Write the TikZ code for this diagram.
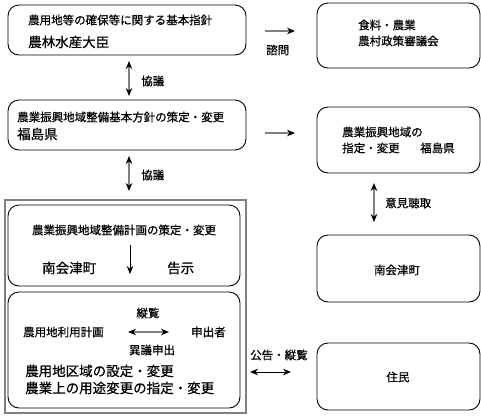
\documentclass[tikz,border=0pt]{standalone}
\usepackage{fontspec}
\setmainfont[FakeBold=0.6,AutoFakeBold=0.6]{Noto Sans CJK JP}
\usetikzlibrary{arrows.meta}
\definecolor{linegray}{RGB}{128,128,128}
\tikzset{
  rbox/.style={draw=black,line width=0.9pt,rounded corners=11pt},
  sm/.style={font=\fontsize{11.5}{13}\selectfont\bfseries,inner sep=0pt},
  lg/.style={font=\fontsize{13.5}{15}\selectfont\bfseries,inner sep=0pt},
  conn/.style={draw=linegray,line width=1.4pt,-{Stealth[length=8pt,width=6.5pt,black]}},
  dconn/.style={draw=linegray,line width=1.4pt,{Stealth[length=8pt,width=6.5pt,black]}-{Stealth[length=8pt,width=6.5pt,black]}},
}
\begin{document}
\begin{tikzpicture}[x=1pt,y=-1pt]
\useasboundingbox (0,0) rectangle (481,416);
% outer frame
\draw[draw=linegray,line width=1.8pt] (5,200) rectangle (246,413);
% left boxes
\draw[rbox] (8,5) rectangle (246,55);
\node[sm,anchor=west] (a1) at (28,20) {農用地等の確保等に関する基本指針};
\node[lg,anchor=west] (a2) at (28,42) {農林水産大臣};
\draw[rbox] (8,100) rectangle (246,150);
\node[sm,anchor=west] (b1) at (17,117) {農業振興地域整備基本方針の策定・変更};
\node[lg,anchor=west] (b2) at (17,134) {福島県};
\draw[rbox] (8,205) rectangle (240,286);
\node[sm] (c1) at (124,230) {農業振興地域整備計画の策定・変更};
\node[lg,anchor=west] (c2) at (42,268) {南会津町};
\node[lg,anchor=west] (c3) at (167,268) {告示};
\coordinate (ctop) at (130,245);
\coordinate (cbot) at (130,274);
\draw[conn,draw=black,line width=0.9pt] (ctop) -- (cbot);
\draw[rbox] (8,292) rectangle (240,408);
\node[sm] (d0) at (148,313) {縦覧};
\node[sm,anchor=west] (d1) at (23,332) {農用地利用計画};
\node[sm,anchor=west] (d2) at (191,332) {申出者};
\node[sm] (d3) at (152,350) {異議申出};
\coordinate (dl) at (128,332);
\coordinate (dr) at (169,332);
\draw[dconn] (dl) -- (dr);
\node[lg,anchor=west] (d4) at (25,371) {農用地区域の設定・変更};
\node[lg,anchor=west] (d5) at (25,388) {農業上の用途変更の指定・変更};
% right boxes
\draw[rbox] (317,3) rectangle (480,68);
\node[sm,anchor=west] (r1a) at (358,25) {食料・農業};
\node[sm,anchor=west] (r1b) at (358,41) {農村政策審議会};
\draw[rbox] (317,107) rectangle (480,173);
\node[sm,anchor=west] (r2a) at (342,132) {農業振興地域の};
\node[sm,anchor=west] (r2b) at (342,148) {指定・変更};
\node[sm,anchor=west] (r2c) at (420,148) {福島県};
\draw[rbox] (317,235) rectangle (480,302);
\node[sm] (r3) at (397,270) {南会津町};
\draw[rbox] (317,343) rectangle (480,410);
\node[sm] (r4) at (398,377) {住民};
% connectors
\coordinate (v1t) at (129,61);
\coordinate (v1b) at (129,96);
\draw[dconn] (v1t) -- (v1b);
\node[sm,anchor=west] (k1) at (141,81) {協議};
\coordinate (v2t) at (129,156);
\coordinate (v2b) at (129,191);
\draw[dconn] (v2t) -- (v2b);
\node[sm,anchor=west] (k2) at (141,175) {協議};
\coordinate (h1l) at (265,31);
\coordinate (h1r) at (295,31);
\draw[conn] (h1l) -- (h1r);
\node[sm,anchor=west] (s1) at (266,50) {諮問};
\coordinate (h2l) at (265,133);
\coordinate (h2r) at (295,133);
\draw[conn] (h2l) -- (h2r);
\coordinate (v3t) at (374,183);
\coordinate (v3b) at (374,222);
\draw[dconn] (v3t) -- (v3b);
\node[sm,anchor=west] (i1) at (385,203) {意見聴取};
\node[sm,anchor=west] (p1) at (250,355) {公告・縦覧};
\coordinate (h3l) at (250,372);
\coordinate (h3r) at (291,372);
\draw[dconn,draw=black,line width=0.9pt] (h3l) -- (h3r);
\end{tikzpicture}
\end{document}
